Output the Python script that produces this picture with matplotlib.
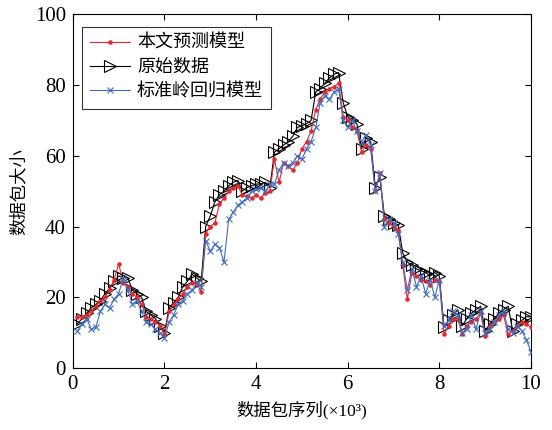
import numpy as np
import matplotlib
matplotlib.use('Agg')
import matplotlib.pyplot as plt

plt.rcParams['font.family'] = ['Liberation Serif', 'Noto Sans CJK SC']
plt.rcParams['axes.unicode_minus'] = False

# 数据包序列 (x10^3)
x = np.arange(1, 101) / 10.0

# 原始数据
orig = [12.5, 14, 15.5, 17, 18, 19, 21, 22.5, 24.5, 26,
        25.5, 25.5, 22, 21, 20, 16, 15, 14, 12, 10,
        17, 18.5, 20, 23, 24.5, 26.5, 25.5, 24.5, 40, 43,
        47, 49, 50, 51.5, 52.5, 53, 50, 51, 51.5, 52,
        52, 52.5, 51, 61, 62, 63, 64, 65.5, 68, 68.5,
        69, 70, 78, 79, 80.5, 82, 83, 83.5, 75, 71,
        70, 69, 62, 65, 64, 51, 54, 43, 42, 41,
        40.5, 32.5, 30, 29, 28, 27.5, 27, 26, 27, 26,
        11.5, 13.5, 15, 16.5, 12, 14, 15.5, 16.5, 17.5, 10.5,
        12.5, 14, 15.5, 16.5, 17.5, 10.5, 12.5, 13.5, 14.5, 14.5]

# 本文预测模型
pred = [14.5, 14.5, 15, 16, 17.5, 19, 20, 22, 25, 29.5,
        24, 23, 21, 20, 18, 14.5, 14, 13, 12, 9.5,
        16, 18, 19.5, 21, 23, 24, 24, 21.5, 38, 40,
        41, 46.5, 48, 50, 51, 51.5, 49, 48.5, 48, 49,
        48, 49.5, 50, 59, 52.5, 58, 57, 56, 58, 62,
        64, 67, 73, 76, 78, 79, 79.5, 80.5, 71, 70,
        68, 67, 61, 63, 62, 50, 55, 42, 41, 40,
        39, 29, 19.5, 27, 26, 25, 24.5, 23.5, 25, 24.5,
        9.5, 12, 14, 14, 9.5, 12, 13, 14, 15.5, 9,
        12, 13, 14, 15, 9.5, 10.5, 12, 13, 12.5, 11.5]

# 标准岭回归模型
ridge = [10.5, 12.5, 14, 11, 11.5, 16, 18, 17, 19.5, 21,
         25.5, 22, 18, 19, 16, 13, 12.5, 11, 10, 8.5,
         13, 15, 18, 19, 21, 22, 24, 23, 36, 33,
         35, 34, 30, 42, 44, 46, 47, 48, 50, 50.5,
         51, 50, 52, 52, 56, 58, 57, 58, 60, 59,
         62, 64, 68, 75, 77, 76, 78, 79, 70, 68,
         70, 67, 64, 66, 63, 50, 55, 40, 42, 41,
         38, 30, 22, 28, 23, 26, 21, 25, 20, 25,
         12, 13.5, 16, 15, 10, 11, 15, 11, 16, 10,
         11, 13, 15, 16, 11, 10, 12, 10.5, 8, 4.5]

fig = plt.figure(figsize=(5.52, 4.3), dpi=100)
ax = fig.add_axes([0.132, 0.144, 0.830, 0.823])

ax.plot(x, pred, color='#e8262b', lw=0.8, marker='.', ms=4.5, label='本文预测模型', zorder=3)
ax.plot(x, orig, color='black', lw=0.8, marker='>', ms=9, mfc='none', mew=0.8,
        label='原始数据', zorder=2)
ax.plot(x, ridge, color='#3f6cc0', lw=0.8, marker='x', ms=4, mew=0.8,
        label='标准岭回归模型', zorder=4)

ax.set_xlim(0, 10)
ax.set_ylim(0, 100)
ax.set_xticks([0, 2, 4, 6, 8, 10])
ax.set_yticks([0, 20, 40, 60, 80, 100])
ax.tick_params(direction='in', top=True, right=True, labelsize=15, length=4, pad=5)
for s in ax.spines.values():
    s.set_linewidth(0.8)

ax.set_xlabel('数据包序列(×10³)', fontsize=12.5, labelpad=5)
ax.set_ylabel('数据包大小', fontsize=12.5, labelpad=5)

leg = ax.legend(loc='upper left', fontsize=13, frameon=True, fancybox=False,
                edgecolor='black', borderpad=0.45, handlelength=2.2,
                labelspacing=0.4, handletextpad=0.4, borderaxespad=0.5,
                bbox_to_anchor=(0.0, 0.99))
leg.get_frame().set_linewidth(0.8)

fig.savefig('out.png', dpi=100)
